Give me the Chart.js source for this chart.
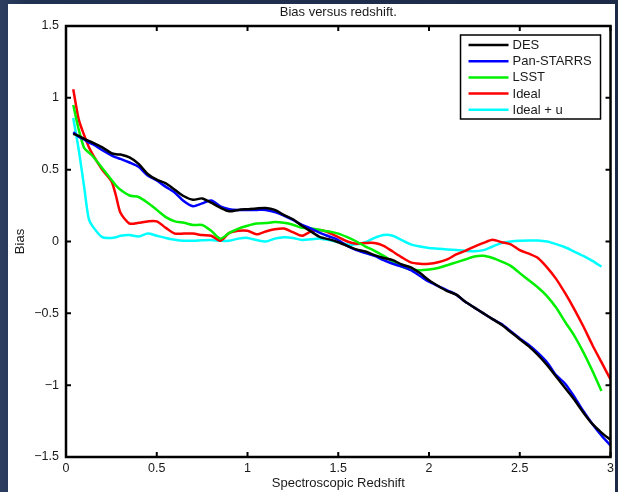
<!DOCTYPE html>
<html>
<head>
<meta charset="utf-8">
<script src="https://cdn.jsdelivr.net/npm/chart.js@4/dist/chart.umd.min.js"></script>
<style>
  html, body { margin: 0; padding: 0; }
  body {
    width: 618px; height: 492px; overflow: hidden; position: relative;
    background: linear-gradient(90deg, #2d3e60 0%, #213152 4%, #1c2a48 100%);
  }
  #panel { position: absolute; left: 8px; top: 4px; width: 607px; height: 488px; background: #fff; }
  #biasChart { position: absolute; left: 8px; top: 4px; display: block; }
</style>
</head>
<body>
<div id="panel"></div>
<canvas id="biasChart" width="610" height="488"></canvas>
<script>
// spectroscopic redshift grid
var redshift = [0.04, 0.07, 0.1, 0.125, 0.15, 0.2, 0.25, 0.275,
  0.3, 0.35, 0.4, 0.45, 0.5, 0.55, 0.6, 0.65, 0.7, 0.75,
  0.8, 0.85, 0.9, 0.95, 1.0, 1.05, 1.1, 1.15, 1.2, 1.25,
  1.3, 1.35, 1.4, 1.45, 1.5, 1.55, 1.6, 1.65, 1.7, 1.75,
  1.8, 1.85, 1.9, 1.95, 2.0, 2.05, 2.1, 2.15, 2.2, 2.25,
  2.3, 2.35, 2.4, 2.45, 2.5, 2.55, 2.6, 2.65, 2.7, 2.75,
  2.8, 2.85, 2.9, 2.95, 3.0];

var des = [0.75, 0.735, 0.715, 0.70, 0.687, 0.655, 0.615, 0.607,
  0.605, 0.585, 0.54, 0.47, 0.43, 0.405, 0.36, 0.315, 0.29, 0.30,
  0.27, 0.235, 0.21, 0.22, 0.225, 0.23, 0.233, 0.22, 0.185, 0.155,
  0.11, 0.07, 0.03, 0.015, -0.005, -0.03, -0.055, -0.07, -0.095, -0.115,
  -0.13, -0.16, -0.18, -0.22, -0.27, -0.31, -0.345, -0.37, -0.42, -0.46,
  -0.50, -0.54, -0.58, -0.63, -0.68, -0.73, -0.79, -0.86, -0.94, -1.02,
  -1.10, -1.19, -1.27, -1.33, -1.38];

var panStarrs = [0.76, 0.73, 0.71, 0.69, 0.675, 0.635, 0.60, 0.585,
  0.575, 0.55, 0.52, 0.46, 0.425, 0.38, 0.34, 0.28, 0.245, 0.265,
  0.285, 0.245, 0.225, 0.22, 0.22, 0.22, 0.22, 0.205, 0.18, 0.15,
  0.116, 0.09, 0.06, 0.035, 0.01, -0.03, -0.06, -0.08, -0.10, -0.13,
  -0.155, -0.175, -0.20, -0.24, -0.28, -0.31, -0.34, -0.37, -0.42, -0.46,
  -0.50, -0.54, -0.575, -0.625, -0.675, -0.72, -0.775, -0.84, -0.93, -0.99,
  -1.08, -1.18, -1.27, -1.35, -1.42];

var lsst = [0.95, 0.78, 0.65, 0.62, 0.59, 0.51, 0.43, 0.39,
  0.36, 0.32, 0.31, 0.27, 0.22, 0.17, 0.14, 0.13, 0.115, 0.115,
  0.075, 0.02, 0.06, 0.09, 0.11, 0.125, 0.128, 0.135, 0.13, 0.117,
  0.095, 0.09, 0.08, 0.07, 0.055, 0.03, 0.0, -0.035, -0.065, -0.10,
  -0.14, -0.175, -0.195, -0.20, -0.195, -0.185, -0.165, -0.145, -0.125, -0.105,
  -0.10, -0.115, -0.14, -0.17, -0.22, -0.27, -0.32, -0.38, -0.46, -0.56,
  -0.655, -0.77, -0.90, -1.04, null];

var ideal = [1.06, 0.85, 0.74, 0.66, 0.60, 0.50, 0.42, 0.32,
  0.20, 0.125, 0.13, 0.14, 0.14, 0.095, 0.055, 0.055, 0.055, 0.045,
  0.04, 0.005, 0.06, 0.075, 0.075, 0.05, 0.07, 0.085, 0.09, 0.065,
  0.04, 0.07, 0.08, 0.06, 0.03, 0.0, -0.015, -0.01, -0.01, -0.03,
  -0.07, -0.11, -0.145, -0.155, -0.155, -0.145, -0.125, -0.09, -0.065, -0.035,
  -0.01, 0.012, -0.005, -0.02, -0.06, -0.085, -0.115, -0.18, -0.26, -0.36,
  -0.47, -0.59, -0.72, -0.84, -0.96];

var idealU = [0.86, 0.64, 0.38, 0.16, 0.10, 0.03, 0.025, 0.03,
  0.04, 0.045, 0.035, 0.055, 0.04, 0.025, 0.012, 0.005, 0.005, 0.008,
  0.01, 0.005, 0.005, 0.02, 0.025, 0.01, 0.0, 0.02, 0.03, 0.025,
  0.01, 0.015, 0.02, 0.01, -0.005, -0.02, -0.02, -0.005, 0.025, 0.045,
  0.04, 0.01, -0.02, -0.035, -0.045, -0.05, -0.055, -0.06, -0.065, -0.068,
  -0.06, -0.035, -0.01, 0.0, 0.005, 0.007, 0.007, 0.0, -0.018, -0.04,
  -0.07, -0.10, -0.135, -0.175, null];

var seriesNames = ['DES', 'Pan-STARRS', 'LSST', 'Ideal', 'Ideal + u'];
var seriesColors = ['#000000', '#0000ff', '#00f000', '#ff0000', '#00ffff'];
var xTicks = [0, 0.5, 1, 1.5, 2, 2.5, 3];
var yTicks = [-1.5, -1, -0.5, 0, 0.5, 1, 1.5];

var FONT = "'Liberation Sans', Arial, Helvetica, sans-serif";
var TEXT = '#1a1a1a';

function points(values) {
  return values.map(function (v, i) { return { x: redshift[i], y: v }; });
}

// box round the axes with inward ticks on all four sides
var axesBox = {
  id: 'axesBox',
  afterDatasetsDraw: function (chart) {
    var ctx = chart.ctx, a = chart.chartArea;
    var xs = chart.scales.x, ys = chart.scales.y;
    ctx.save();
    ctx.strokeStyle = '#000';
    ctx.lineWidth = 2;
    ctx.beginPath();
    xTicks.forEach(function (t) {
      var px = xs.getPixelForValue(t);
      ctx.moveTo(px, a.bottom); ctx.lineTo(px, a.bottom - 5);
      ctx.moveTo(px, a.top); ctx.lineTo(px, a.top + 5);
    });
    yTicks.forEach(function (t) {
      var py = ys.getPixelForValue(t);
      ctx.moveTo(a.left, py); ctx.lineTo(a.left + 5, py);
      ctx.moveTo(a.right, py); ctx.lineTo(a.right - 5, py);
    });
    ctx.stroke();
    ctx.lineWidth = 2.5;
    ctx.strokeRect(a.left, a.top, a.right - a.left, a.bottom - a.top);
    ctx.restore();
  }
};

// title centred over the axes
var axesTitle = {
  id: 'axesTitle',
  afterDraw: function (chart) {
    var ctx = chart.ctx, a = chart.chartArea;
    ctx.save();
    ctx.font = '13px ' + FONT;
    ctx.fillStyle = TEXT;
    ctx.textAlign = 'center';
    ctx.textBaseline = 'middle';
    ctx.fillText('Bias versus redshift.', (a.left + a.right) / 2, 8.5);
    ctx.restore();
  }
};

// legend box inside the top right corner
var boxLegend = {
  id: 'boxLegend',
  afterDraw: function (chart) {
    var ctx = chart.ctx, a = chart.chartArea;
    var x0 = a.right - 150, y0 = a.top + 9, w = 140, h = 84;
    ctx.save();
    ctx.fillStyle = '#fff';
    ctx.fillRect(x0, y0, w, h);
    ctx.strokeStyle = '#000';
    ctx.lineWidth = 1.5;
    ctx.strokeRect(x0, y0, w, h);
    ctx.font = '13px ' + FONT;
    ctx.textBaseline = 'middle';
    ctx.textAlign = 'left';
    chart.data.datasets.forEach(function (ds, i) {
      var y = y0 + 10 + i * 16.2;
      ctx.strokeStyle = ds.borderColor;
      ctx.lineWidth = 2.5;
      ctx.beginPath();
      ctx.moveTo(x0 + 8, y); ctx.lineTo(x0 + 48, y);
      ctx.stroke();
      ctx.fillStyle = TEXT;
      ctx.fillText(ds.label, x0 + 52, y + 0.5);
    });
    ctx.restore();
  }
};

var series = [des, panStarrs, lsst, ideal, idealU];

new Chart(document.getElementById('biasChart'), {
  type: 'line',
  data: {
    datasets: series.map(function (vals, i) {
      return {
        label: seriesNames[i],
        data: points(vals),
        borderColor: seriesColors[i],
        borderWidth: 2.5,
        pointRadius: 0,
        tension: 0.25,
        fill: false
      };
    })
  },
  options: {
    responsive: false,
    animation: false,
    devicePixelRatio: 1,
    layout: { padding: { top: 22, right: 0, left: 0, bottom: 0 } },
    plugins: {
      legend: { display: false },
      title: { display: false },
      tooltip: { enabled: false }
    },
    scales: {
      x: {
        type: 'linear',
        min: 0, max: 3,
        afterFit: function (s) { s.height = 35; },
        afterBuildTicks: function (s) { s.ticks = xTicks.map(function (v) { return { value: v }; }); },
        grid: { display: false, drawTicks: false },
        border: { display: false },
        ticks: {
          padding: 4,
          maxRotation: 0,
          color: TEXT,
          font: { family: FONT, size: 12.5 },
          callback: function (v) { return String(v); }
        },
        title: {
          display: true,
          text: 'Spectroscopic Redshift',
          color: TEXT,
          font: { family: FONT, size: 13 },
          padding: { top: 0, bottom: 1 }
        }
      },
      y: {
        type: 'linear',
        min: -1.5, max: 1.5,
        afterFit: function (s) { s.width = 58; },
        afterBuildTicks: function (s) { s.ticks = yTicks.map(function (v) { return { value: v }; }); },
        grid: { display: false, drawTicks: false },
        border: { display: false },
        ticks: {
          padding: 7,
          color: TEXT,
          font: { family: FONT, size: 12.5 },
          callback: function (v) { return String(v).replace('-', '\u2212'); }
        },
        title: {
          display: true,
          text: 'Bias',
          color: TEXT,
          font: { family: FONT, size: 13 },
          padding: { top: 5, bottom: 0 }
        }
      }
    }
  },
  plugins: [axesBox, axesTitle, boxLegend]
});
</script>
</body>
</html>
